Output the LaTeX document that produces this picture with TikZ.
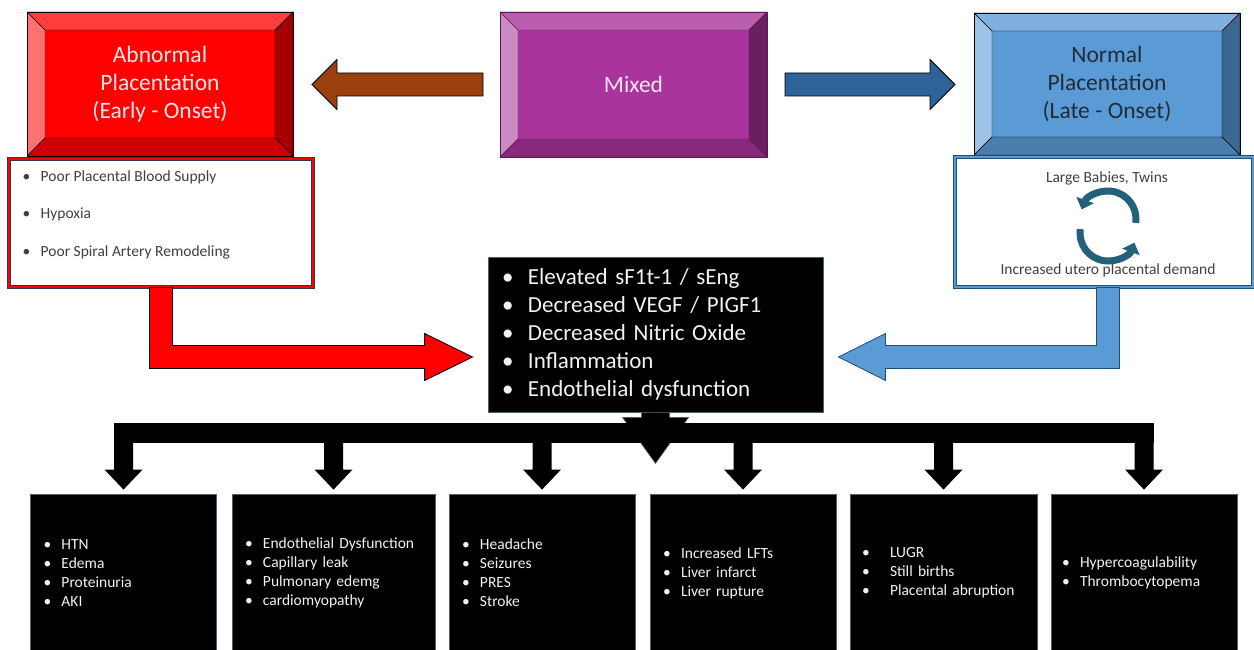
\documentclass[tikz,border=0pt]{standalone}
\usepackage{fontspec}
\setmainfont{Carlito}
\usepackage{tikz}
\usetikzlibrary{calc,positioning,arrows.meta}

\definecolor{abnred}{HTML}{FF0000}
\definecolor{abntop}{HTML}{FF3D3D}
\definecolor{abnleft}{HTML}{FF7070}
\definecolor{abnright}{HTML}{A50000}
\definecolor{abnbot}{HTML}{CF0000}
\definecolor{abntxt}{HTML}{FFE6E6}
\definecolor{mixface}{HTML}{A9349B}
\definecolor{mixtop}{HTML}{BA5FB0}
\definecolor{mixleft}{HTML}{CC8AC5}
\definecolor{mixright}{HTML}{6A1F61}
\definecolor{mixbot}{HTML}{87297C}
\definecolor{mixedge}{HTML}{5C1A54}
\definecolor{mixtxt}{HTML}{F4E4F2}
\definecolor{normface}{HTML}{5B9BD5}
\definecolor{normtop}{HTML}{7FB0E0}
\definecolor{normleft}{HTML}{9DC3E6}
\definecolor{normright}{HTML}{3A6891}
\definecolor{normbot}{HTML}{4A7EAE}
\definecolor{normtxt}{HTML}{1F2D3A}
\definecolor{brownarr}{HTML}{9A400E}
\definecolor{bluearr}{HTML}{2E6399}
\definecolor{cycteal}{HTML}{236079}
\definecolor{listgrey}{HTML}{404040}
\definecolor{slate}{HTML}{2B3A4F}
\definecolor{navyedge}{HTML}{1F4E79}
\definecolor{boxedge}{HTML}{4A6272}
\definecolor{boxtxt}{HTML}{F2F2F2}

\newcommand{\itm}[2][18pt]{\makebox[#1][l]{\textbullet}#2}

\tikzset{
	bevel w/.store in=\bevw,
	bevel w=18,
	bevel/.style n args={5}{draw=#5, outer sep=0pt, inner sep=0pt,
		path picture={
			\filldraw[fill=#1, draw=#5] (path picture bounding box.north west)
				-- (path picture bounding box.north east) -- ++(-\bevw,-\bevw)
				-- ($(path picture bounding box.north west)+(\bevw,-\bevw)$) -- cycle;
			\filldraw[fill=#2, draw=#5] (path picture bounding box.north west) -- ++(\bevw,-\bevw)
				-- ($(path picture bounding box.south west)+(\bevw,\bevw)$)
				-- (path picture bounding box.south west) -- cycle;
			\filldraw[fill=#3, draw=#5] (path picture bounding box.north east) -- ++(-\bevw,-\bevw)
				-- ($(path picture bounding box.south east)+(-\bevw,\bevw)$)
				-- (path picture bounding box.south east) -- cycle;
			\filldraw[fill=#4, draw=#5] (path picture bounding box.south west) -- ++(\bevw,\bevw)
				-- ($(path picture bounding box.south east)+(-\bevw,\bevw)$)
				-- (path picture bounding box.south east) -- cycle;
		}},
	title/.style={align=center, font=\fontsize{23.5}{28}\selectfont},
	redlist/.style={draw=slate, double=abnred, line width=1pt, double distance=1.2pt,
		fill=white, inner sep=0pt},
	bluelist/.style={draw=navyedge, double=normface, line width=1pt, double distance=1.2pt,
		fill=white, inner sep=0pt},
	listtxt/.style={inner sep=0pt, align=left, text=listgrey,
		font=\fontsize{15.5}{37.5}\selectfont},
	greytxt/.style={inner sep=0pt, text=listgrey, font=\fontsize{15.5}{18}\selectfont},
	blockarrow/.style={draw=black, line width=0.8pt, line join=miter},
	cycarrow/.style={draw=cycteal, line width=7pt, -{Triangle[width=18pt,length=10pt]}},
	centre/.style={fill=black, draw=boxedge, line width=0.8pt, minimum width=335,
		minimum height=155, text width=307, align=left, inner sep=0pt, text=boxtxt,
		font=\fontsize{23}{28}\selectfont},
	obox/.style 2 args={fill=black, draw=boxedge, line width=0.8pt, minimum width=#1,
		text width=#2, minimum height=158, inner sep=0pt, align=left, text=boxtxt,
		font=\fontsize{15.5}{19}\selectfont}
}

\begin{document}
\begin{tikzpicture}[x=1pt, y=1pt]
   \useasboundingbox (0,0) rectangle (1254,-650);

   % top row
   \node[bevel={abntop}{abnleft}{abnright}{abnbot}{black}, fill=abnred,
      minimum width=266, minimum height=144, title, text=abntxt] (abn) at (160,-84)
      {Abnormal\\Placentation\\(Early - Onset)};
   \node[bevel={mixtop}{mixleft}{mixright}{mixbot}{mixedge}, fill=mixface,
      minimum width=267, minimum height=145, title, text=mixtxt] (mix) at (633.5,-84.5)
      {Mixed};
   \node[bevel={normtop}{normleft}{normright}{normbot}{black}, fill=normface,
      minimum width=266, minimum height=142, title, text=normtxt] (norm) at (1107,-84)
      {Normal\\Placentation\\(Late - Onset)};

   \draw[blockarrow, fill=brownarr] let \p1=(mix.west), \p2=(abn.east) in
      (\x1-17,\y1+11.5) -- (\x2+44,\y1+11.5) -- (\x2+44,\y1+25) -- (\x2+19,\y1)
      -- (\x2+44,\y1-25) -- (\x2+44,\y1-11.5) -- (\x1-17,\y1-11.5) -- cycle;
   \draw[blockarrow, fill=bluearr] let \p1=(mix.east), \p2=(norm.west) in
      (\x1+18,\y1+11.5) -- (\x2-44,\y1+11.5) -- (\x2-44,\y1+25) -- (\x2-19,\y1)
      -- (\x2-44,\y1-25) -- (\x2-44,\y1-11.5) -- (\x1+18,\y1-11.5) -- cycle;

   % list boxes under the top row
   \node[redlist, minimum width=304, minimum height=128] (abnlist) at (161,-223) {};
   \node[listtxt, anchor=west] (abnitems) at ($(abnlist.west)+(14,8.5)$)
      {\itm{Poor Placental Blood Supply}\\\itm{Hypoxia}\\\itm{Poor Spiral Artery Remodeling}};
   \node[bluelist, minimum width=298, minimum height=130] (normlist) at (1104,-222) {};
   \node[greytxt] (twins) at (1107,-178) {Large Babies, Twins};
   \node[greytxt] (demand) at (1108,-270) {Increased utero placental demand};
   \coordinate (cycU) at (1108,-219);
   \coordinate (cycL) at (1108,-233);
   \draw[cycarrow] ($(cycU)+(-8:28)$) arc[start angle=-8, end angle=160, radius=28];
   \draw[cycarrow] ($(cycL)+(172:28)$) arc[start angle=172, end angle=340, radius=28];

   % centre
   \node[centre] (centre) at (655.5,-334.5)
      {\itm[26pt]{Elevated sF1t-1 / sEng}\\\itm[26pt]{Decreased VEGF / PIGF1}\\
       \itm[26pt]{Decreased Nitric Oxide}\\\itm[26pt]{Inflammation}\\
       \itm[26pt]{Endothelial dysfunction}};

   \coordinate (redtip) at ($(centre.west)+(-15,-22.5)$);
   \coordinate (bluetip) at ($(centre.east)+(15,-22.5)$);
   \draw[blockarrow, fill=abnred] let \p1=(abnlist.south), \p3=(redtip) in
      (\x1-11.5,\y1) -- (\x1+11.5,\y1) -- (\x1+11.5,\y3+11.5) -- (\x3-48,\y3+11.5)
      -- (\x3-48,\y3+23.5) -- (\x3,\y3) -- (\x3-48,\y3-23.5) -- (\x3-48,\y3-11.5)
      -- (\x1-11.5,\y3-11.5) -- cycle;
   \draw[blockarrow, draw=navyedge, fill=normface] let \p1=(normlist.south), \p3=(bluetip) in
      (\x1+15.5,\y1) -- (\x1-7.5,\y1) -- (\x1-7.5,\y3+11.5) -- (\x3+47,\y3+11.5)
      -- (\x3+47,\y3+23.5) -- (\x3,\y3) -- (\x3+47,\y3-23.5) -- (\x3+47,\y3-11.5)
      -- (\x1+15.5,\y3-11.5) -- cycle;

   % outcomes
   \node[obox={186}{160}] (o1) at (123.5,-573)
      {\itm{HTN}\\\itm{Edema}\\\itm{Proteinuria}\\\itm{AKI}};
   \node[obox={203}{177}] (o2) at (333.5,-573)
      {\itm{Endothelial Dysfunction}\\\itm{Capillary leak}\\\itm{Pulmonary edemg}\\\itm{cardiomyopathy}};
   \node[obox={186}{160}] (o3) at (542,-573)
      {\itm{Headache}\\\itm{Seizures}\\\itm{PRES}\\\itm{Stroke}};
   \node[obox={186}{160}] (o4) at (743,-573)
      {\itm{Increased LFTs}\\\itm{Liver infarct}\\\itm{Liver rupture}};
   \node[obox={187}{163}] (o5) at (943.5,-573)
      {\itm[28pt]{LUGR}\\\itm[28pt]{Still births}\\\itm[28pt]{Placental abruption}};
   \node[obox={186}{164}] (o6) at (1144,-573)
      {\itm{Hypercoagulability}\\\itm{Thrombocytopema}};

   % distribution bar
   \draw[draw=boxedge, fill=black, line width=0.6pt] let \p1=(centre.south) in
      (\x1-14,\y1) -- (\x1+14,\y1) -- (\x1+14,\y1-5) -- (\x1+33,\y1-5) -- (\x1,\y1-51)
      -- (\x1-33,\y1-5) -- (\x1-14,\y1-5) -- cycle;
   \fill[black] ($(o1.north)+(-9.5,71)$) rectangle ($(o6.north)+(9.5,51)$);
   \foreach \b in {1,...,6}
      \fill[black] ($(o\b.north)+(0,4)$) -- ++(-19,20) -- ++(9.5,0) -- ++(0,30)
         -- ++(19,0) -- ++(0,-30) -- ++(9.5,0) -- cycle;
\end{tikzpicture}
\end{document}
